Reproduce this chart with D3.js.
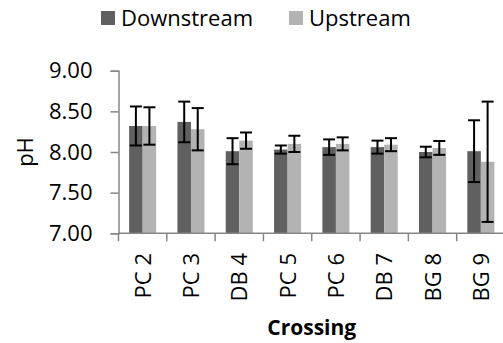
<!DOCTYPE html>
<html><head><meta charset="utf-8">
<script src="https://cdn.jsdelivr.net/npm/d3@7"></script>
<style>body{margin:0;background:#fff}svg{display:block}text{font-family:"Open Sans",sans-serif}</style>
</head><body>
<svg id="c" width="503" height="343"></svg>
<script>
const categories = ["PC 2","PC 3","DB 4","PC 5","PC 6","DB 7","BG 8","BG 9"];
const seriesNames = ["Downstream","Upstream"];
const downstream = [8.32, 8.37, 8.01, 8.03, 8.06, 8.06, 8.00, 8.01];
const downstreamErr = [0.24, 0.25, 0.16, 0.05, 0.095, 0.08, 0.065, 0.38];
const upstream = [8.32, 8.28, 8.14, 8.10, 8.10, 8.09, 8.05, 7.88];
const upstreamErr = [0.23, 0.26, 0.10, 0.10, 0.08, 0.08, 0.085, 0.74];
const yTicks = [7.00, 7.50, 8.00, 8.50, 9.00];
const colors = ["#606060", "#b3b3b3"];

const svg = d3.select("#c");
const L = 118.5, R = 505, T = 70.7, B = 233.3;
const x = d3.scaleBand().domain(categories).range([L, R]).paddingInner(0.44).paddingOuter(0.22);
const xs = d3.scaleBand().domain(seriesNames).range([0, x.bandwidth()]);
const y = d3.scaleLinear().domain([7, 9]).range([B, T]);
const axisColor = "#868686";

const data = categories.map((c, i) => ({
  cat: c,
  vals: [
    {s: seriesNames[0], v: downstream[i], e: downstreamErr[i], c: colors[0]},
    {s: seriesNames[1], v: upstream[i], e: upstreamErr[i], c: colors[1]}
  ]
}));

const g = svg.append("g");
const groups = g.selectAll("g.grp").data(data).join("g")
  .attr("transform", d => `translate(${x(d.cat)},0)`);
groups.selectAll("rect").data(d => d.vals).join("rect")
  .attr("x", d => xs(d.s)).attr("width", xs.bandwidth())
  .attr("y", d => y(d.v)).attr("height", d => B - y(d.v))
  .attr("fill", d => d.c);

// axes
const yAxis = d3.axisLeft(y).tickValues(yTicks).tickFormat(d3.format(".2f")).tickSize(8).tickPadding(18);
const ya = svg.append("g").attr("transform", `translate(${L},0)`).call(yAxis);
ya.select(".domain").attr("stroke", axisColor).attr("stroke-width", 1.5);
ya.selectAll(".tick line").attr("stroke", axisColor).attr("stroke-width", 1.5);
ya.selectAll(".tick text").attr("font-size", 22).attr("fill", "#000").attr("font-family", '"Open Sans",sans-serif');

// x axis line + boundary ticks
svg.append("line").attr("x1", L).attr("x2", R).attr("y1", B).attr("y2", B)
  .attr("stroke", axisColor).attr("stroke-width", 1.5);
const step = x.step();
const bounds = categories.map((c, i) => x(c) - x.paddingInner() * step / 2);
svg.selectAll("line.xt").data(bounds).join("line").attr("class", "xt")
  .attr("x1", d => d).attr("x2", d => d).attr("y1", B).attr("y2", B + 8)
  .attr("stroke", axisColor).attr("stroke-width", 1.5);

// error bars
const eb = groups.selectAll("g.eb").data(d => d.vals).join("g").attr("class", "eb");
eb.append("line")
  .attr("x1", d => xs(d.s) + xs.bandwidth() / 2).attr("x2", d => xs(d.s) + xs.bandwidth() / 2)
  .attr("y1", d => y(d.v + d.e)).attr("y2", d => y(d.v - d.e))
  .attr("stroke", "#000").attr("stroke-width", 2);
[1, -1].forEach(sg => {
  eb.append("line")
    .attr("x1", d => xs(d.s) + xs.bandwidth() / 2 - 6).attr("x2", d => xs(d.s) + xs.bandwidth() / 2 + 6)
    .attr("y1", d => y(d.v + sg * d.e)).attr("y2", d => y(d.v + sg * d.e))
    .attr("stroke", "#000").attr("stroke-width", 2);
});

// x tick labels
svg.selectAll("text.xl").data(categories).join("text").attr("class", "xl")
  .attr("transform", d => `translate(${x(d) + x.bandwidth() / 2 + 8},253) rotate(-90)`)
  .attr("text-anchor", "end").attr("font-size", 22).attr("fill", "#000").text(d => d);

// axis titles
svg.append("text").attr("transform", `translate(33,152) rotate(-90)`)
  .attr("text-anchor", "middle").attr("font-size", 22).attr("fill", "#000").text("pH");
svg.append("text").attr("x", (L + R) / 2).attr("y", 335)
  .attr("text-anchor", "middle").attr("font-size", 21).attr("font-weight", "bold").attr("fill", "#000").text("Crossing");

// legend
const legX = [101, 289];
const leg = svg.selectAll("g.leg").data(seriesNames).join("g").attr("class", "leg")
  .attr("transform", (d, i) => `translate(${legX[i]},0)`);
leg.append("rect").attr("x", 0).attr("y", 11).attr("width", 14).attr("height", 14).attr("fill", (d, i) => colors[i]);
leg.append("text").attr("x", 20).attr("y", 26).attr("font-size", 22).attr("fill", "#000").text(d => d);
</script>
</body></html>
